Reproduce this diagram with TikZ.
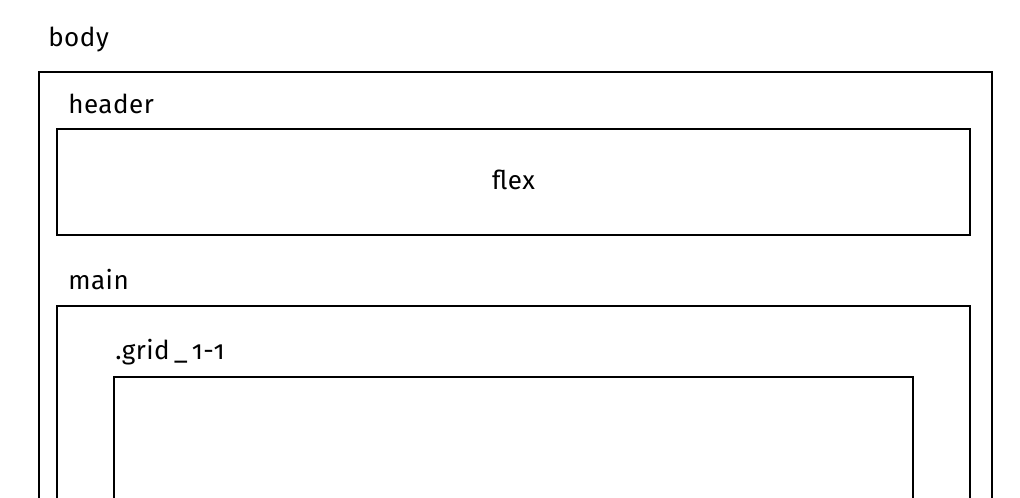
\documentclass[tikz,border=0pt]{standalone}
\usepackage{fontspec}
\setmainfont[Numbers=OldStyle, LetterSpace=2]{Fira Sans}
\usetikzlibrary{positioning}

\tikzstyle{box} = [rectangle, draw, line width=1.5pt, inner sep=0pt, anchor=north west]
\tikzstyle{tag} = [inner sep=0pt, anchor=base west, font=\fontsize{19.5}{23}\selectfont]

\begin{document}
\begin{tikzpicture}[x=0.75pt, y=-0.75pt]
        \useasboundingbox (0,0) rectangle (1020,498);
        \clip (0,0) rectangle (1020,498);
        % outer boxes, cut off at the bottom
        \node (body) at (38,71) [box, minimum width=953*0.75pt, minimum height=600*0.75pt] {};
        \node (header) at (56,128) [box, minimum width=913*0.75pt, minimum height=106*0.75pt] {};
        \node (main) at (56,305) [box, minimum width=913*0.75pt, minimum height=400*0.75pt] {};
        \node (grid) at (113,376) [box, minimum width=799*0.75pt, minimum height=300*0.75pt] {};
        % labels
        \node (bodytag) at (48,47) [tag] {body};
        \node (headertag) at (68,114) [tag] {header};
        \node (maintag) at (68,290) [tag] {main};
        \node (gridtag) at (115,360) [tag] {.grid\,\_\,1-1};
        \node (flex) at ([yshift=-6pt]header.center) [tag, anchor=base] {flex};
\end{tikzpicture}
\end{document}
